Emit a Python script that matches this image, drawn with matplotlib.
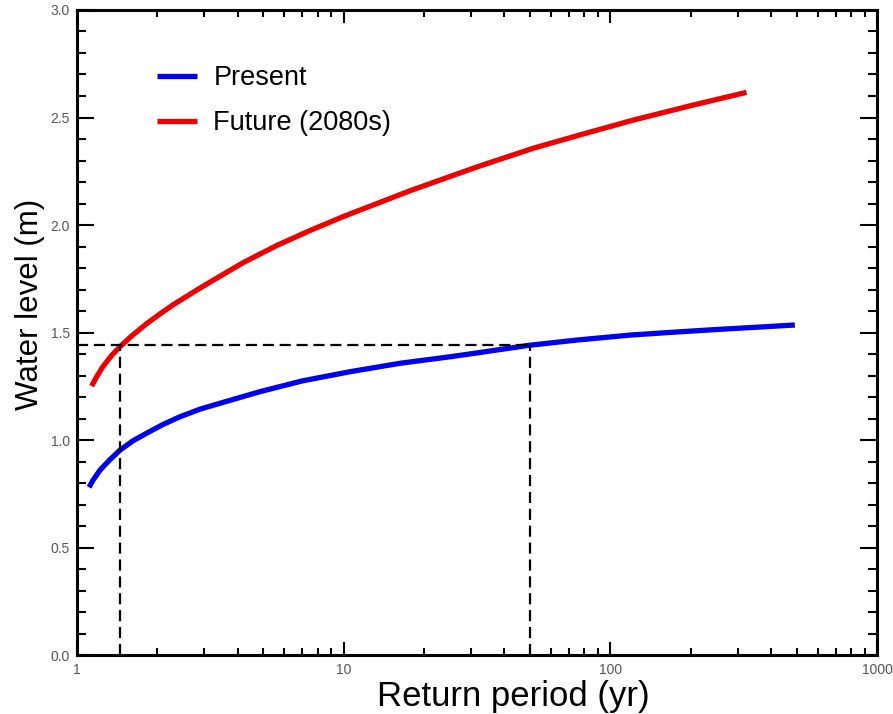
import matplotlib
matplotlib.use("Agg")
import matplotlib.pyplot as plt
from matplotlib.ticker import LogLocator, MultipleLocator, NullFormatter

plt.rcParams["font.family"] = ["Liberation Sans", "DejaVu Sans"]

# Return level curves
present_period = [1.11, 1.15, 1.22, 1.32, 1.45, 1.62, 1.82, 2.1, 2.43, 2.9, 3.44,
                  4.86, 7.0, 10.6, 16.3, 25, 31.6, 49.2, 75, 118.5, 180, 258,
                  370, 492]
present_level = [0.78, 0.814, 0.86, 0.905, 0.953, 0.996, 1.031, 1.072, 1.108,
                 1.144, 1.171, 1.225, 1.275, 1.318, 1.357, 1.387, 1.405, 1.44,
                 1.465, 1.488, 1.503, 1.515, 1.526, 1.535]

future_period = [1.135, 1.18, 1.25, 1.35, 1.45, 1.6, 1.82, 2.05, 2.3, 2.81,
                 3.16, 4.2, 5.62, 7.5, 10, 17.8, 31.6, 51.4, 80, 122, 200, 324]
future_level = [1.251, 1.29, 1.341, 1.394, 1.434, 1.483, 1.54, 1.587, 1.63,
                1.697, 1.735, 1.825, 1.905, 1.975, 2.04, 2.16, 2.27, 2.357,
                2.425, 2.488, 2.555, 2.617]

# Reference level and the matching return periods
ref_level = 1.44
ref_future_period = 1.45
ref_present_period = 50

xticks = [1, 10, 100, 1000]
xticklabels = ["1", "10", "100", "1000"]

fig = plt.figure(figsize=(8.93, 7.14), dpi=100)
ax = fig.add_axes([0.0862, 0.0826, 0.8959, 0.9034])

ax.plot(present_period, present_level, color="#0000ee", lw=3.8,
        solid_capstyle="butt", solid_joinstyle="round", label="Present")
ax.plot(future_period, future_level, color="#ee0000", lw=3.8,
        solid_capstyle="butt", solid_joinstyle="round", label="Future (2080s)")

dash = dict(color="black", lw=1.6, dashes=(5, 2.6))
ax.plot([1, ref_present_period], [ref_level, ref_level], **dash)
ax.plot([ref_future_period, ref_future_period], [0, ref_level], **dash)
ax.plot([ref_present_period, ref_present_period], [0, ref_level], **dash)

ax.set_xscale("log")
ax.set_xlim(1, 1000)
ax.set_ylim(0, 3.0)

ax.set_xticks(xticks)
ax.set_xticklabels(xticklabels)
ax.xaxis.set_minor_locator(LogLocator(base=10, subs=range(2, 10)))
ax.xaxis.set_minor_formatter(NullFormatter())
ax.yaxis.set_major_locator(MultipleLocator(0.5))
ax.yaxis.set_minor_locator(MultipleLocator(0.1))
ax.yaxis.set_major_formatter(plt.FormatStrFormatter("%.1f"))

for s in ax.spines.values():
    s.set_linewidth(2.2)

ax.tick_params(which="both", direction="in", top=True, right=True,
               labelsize=10, labelcolor="#555555", width=1.5)
ax.tick_params(axis="y", which="major", length=12, pad=5)
ax.tick_params(axis="y", which="minor", length=6.5)
ax.tick_params(axis="x", which="major", length=9.5, pad=6)
ax.tick_params(axis="x", which="minor", length=5)

# keep end labels inside the frame like the original
ylabels = ax.get_yticklabels()
ylabels[0].set_va("bottom")
ylabels[-1].set_va("top")

ax.set_xlabel("Return period (yr)", fontsize=25)
ax.set_ylabel("Water level (m)", fontsize=22.5)
ax.xaxis.set_label_coords(0.546, -0.038)
ax.yaxis.set_label_coords(-0.040, 0.543)

ax.legend(loc="upper left", bbox_to_anchor=(0.069, 0.952), frameon=False,
          fontsize=19.5, handlelength=1.5, handletextpad=0.6, labelspacing=0.7)

fig.savefig("out.png", dpi=100)
